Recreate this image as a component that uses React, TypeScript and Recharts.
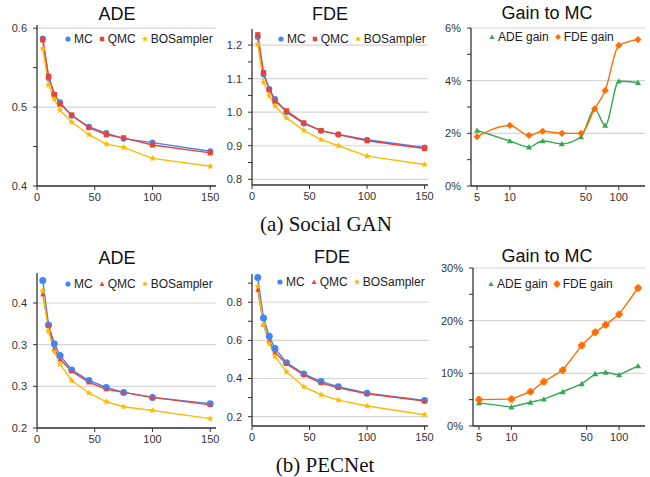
import { LineChart, Line, XAxis, YAxis, CartesianGrid, Legend } from "recharts";

const FONT = '"Liberation Sans", Arial, sans-serif';
const SERIF = '"Liberation Serif", "Times New Roman", serif';

const BLUE = "#4285F4";
const RED = "#EA4335";
const YELLOW = "#FBBC04";
const GREEN = "#34A853";
const ORANGE = "#FF6D01";

// number of samples
const sampleSizes = [5, 10, 15, 20, 30, 45, 60, 75, 100, 150];

// (a) Social GAN
const sganAdeMC = [0.587, 0.537, 0.516, 0.506, 0.489, 0.475, 0.467, 0.46, 0.455, 0.444];
const sganAdeQMC = [0.585, 0.539, 0.516, 0.504, 0.49, 0.474, 0.465, 0.461, 0.452, 0.442];
const sganAdeBO = [0.574, 0.528, 0.51, 0.496, 0.481, 0.465, 0.453, 0.449, 0.435, 0.425];
const sganFdeMC = [1.224, 1.113, 1.069, 1.039, 1.0, 0.966, 0.945, 0.934, 0.918, 0.895];
const sganFdeQMC = [1.231, 1.118, 1.067, 1.033, 1.004, 0.968, 0.945, 0.933, 0.915, 0.892];
const sganFdeBO = [1.203, 1.089, 1.049, 1.019, 0.983, 0.946, 0.918, 0.9, 0.869, 0.844];
const sganAdeGain = [2.11, 1.71, 1.48, 1.71, 1.6, 1.87, 2.93, 2.3, 3.98, 3.93];
const sganFdeGain = [1.87, 2.3, 1.92, 2.08, 2.0, 2.0, 2.93, 3.63, 5.34, 5.56];

// (b) PECNet
const pecAdeMC = [0.436, 0.365, 0.335, 0.316, 0.293, 0.276, 0.265, 0.257, 0.249, 0.239];
const pecAdeQMC = [0.414, 0.364, 0.327, 0.31, 0.291, 0.273, 0.262, 0.257, 0.249, 0.237];
const pecAdeBO = [0.419, 0.355, 0.322, 0.302, 0.276, 0.256, 0.242, 0.234, 0.228, 0.215];
const pecFdeMC = [0.929, 0.717, 0.621, 0.558, 0.483, 0.424, 0.384, 0.357, 0.323, 0.285];
const pecFdeQMC = [0.866, 0.683, 0.598, 0.537, 0.476, 0.419, 0.376, 0.351, 0.32, 0.282];
const pecFdeBO = [0.885, 0.683, 0.583, 0.515, 0.435, 0.357, 0.315, 0.287, 0.256, 0.21];
const pecAdeGain = [4.4, 3.6, 4.5, 5.1, 6.5, 8.0, 9.9, 10.2, 9.7, 11.4];
const pecFdeGain = [5.0, 5.1, 6.5, 8.4, 10.6, 15.3, 17.8, 19.2, 21.2, 26.2];

// axis ticks
const linTicks = [0, 50, 100, 150];
const logTicks = [5, 10, 50, 100];
const sganAdeTicks = [0.4, 0.45, 0.5, 0.55, 0.6];
const sganAdeMajor = [0.4, 0.5, 0.6];
const sganFdeTicks = [0.8, 0.85, 0.9, 0.95, 1.0, 1.05, 1.1, 1.15, 1.2];
const sganFdeMajor = [0.8, 0.9, 1.0, 1.1, 1.2];
const sganGainTicks = [0, 1, 2, 3, 4, 5, 6];
const sganGainMajor = [0, 2, 4, 6];
const pecAdeTicks = [0.2, 0.2667, 0.3333, 0.4];
const pecFdeTicks = [0.2, 0.3, 0.4, 0.5, 0.6, 0.7, 0.8, 0.9];
const pecFdeMajor = [0.2, 0.4, 0.6, 0.8];
const pecGainTicks = [0, 5, 10, 15, 20, 25, 30];
const pecGainMajor = [0, 10, 20, 30];

type Shape = "circle" | "square" | "triangle" | "star" | "diamond" | "plus";
type Series = { key: string; name: string; color: string; shape: Shape; size: number; legendSize: number };

function Marker({ shape, cx, cy, s, color }: { shape: Shape; cx: number; cy: number; s: number; color: string }) {
    switch (shape) {
        case "circle":
            return <circle cx={cx} cy={cy} r={s} fill={color} />;
        case "square":
            return <rect x={cx - s} y={cy - s} width={2 * s} height={2 * s} fill={color} />;
        case "triangle":
            return <path d={`M${cx},${cy - s}L${cx + s},${cy + s * 0.8}L${cx - s},${cy + s * 0.8}Z`} fill={color} />;
        case "diamond":
            return <path d={`M${cx},${cy - s}L${cx + s},${cy}L${cx},${cy + s}L${cx - s},${cy}Z`} fill={color} />;
        case "plus": {
            const a = s * 0.45;
            return (
                <path
                    d={`M${cx - a},${cy - s}H${cx + a}V${cy - a}H${cx + s}V${cy + a}H${cx + a}V${cy + s}H${cx - a}V${cy + a}H${cx - s}V${cy - a}H${cx - a}Z`}
                    fill={color}
                    stroke={color}
                    strokeWidth={0.8}
                    strokeLinejoin="round"
                />
            );
        }
        case "star": {
            const pts: string[] = [];
            for (let i = 0; i < 10; i++) {
                const r = i % 2 === 0 ? s : s * 0.45;
                const ang = -Math.PI / 2 + (i * Math.PI) / 5;
                pts.push(`${cx + r * Math.cos(ang)},${cy + r * Math.sin(ang)}`);
            }
            return <polygon points={pts.join(" ")} fill={color} />;
        }
    }
    return null;
}

function Panel({
    box,
    data,
    series,
    yDomain,
    yTicks,
    yMajor,
    yFmt,
    xDomain,
    xTicks,
    logX,
    curve,
    legendAt,
}: {
    box: { x0: number; x1: number; y0: number; y1: number };
    data: any[];
    series: Series[];
    yDomain: [number, number];
    yTicks: number[];
    yMajor: number[];
    yFmt: (v: number) => string;
    xDomain: [number, number];
    xTicks: number[];
    logX?: boolean;
    curve: "linear" | "monotone";
    legendAt: { x: number; y: number };
}) {
    const YW = 40;
    const XH = 20;
    const PT = 10;
    const PR = 14;
    const left = box.x0 - YW;
    const top = box.y0 - PT;
    const width = box.x1 - box.x0 + YW + PR;
    const height = box.y1 - box.y0 + PT + XH;
    const tickStyle = { fontSize: 11, fill: "#333", fontFamily: FONT };

    return (
        <div style={{ position: "absolute", left, top, width, height }}>
            <LineChart width={width} height={height} data={data} margin={{ top: PT, right: PR, left: 0, bottom: 0 }}>
                <CartesianGrid vertical={false} horizontalValues={yMajor} stroke="#d6d6d6" strokeWidth={1.2} />
                <XAxis
                    dataKey="n"
                    type="number"
                    scale={logX ? "log" : "linear"}
                    domain={xDomain}
                    ticks={xTicks}
                    interval={0}
                    allowDataOverflow
                    height={XH}
                    tickSize={4}
                    tickMargin={3}
                    tick={tickStyle}
                    axisLine={{ stroke: "#333", strokeWidth: 1.3 }}
                    tickLine={{ stroke: "#333" }}
                />
                <YAxis
                    type="number"
                    domain={yDomain}
                    ticks={yTicks}
                    interval={0}
                    allowDataOverflow
                    width={YW}
                    tickSize={4}
                    tickMargin={6}
                    tick={tickStyle}
                    tickFormatter={(v: number) => (yMajor.includes(v) ? yFmt(v) : "")}
                    axisLine={{ stroke: "#333", strokeWidth: 1.3 }}
                    tickLine={{ stroke: "#333" }}
                />
                <Legend
                    layout="vertical"
                    align="center"
                    verticalAlign="middle"
                    wrapperStyle={{ left: legendAt.x - left, top: legendAt.y - top - 8, width: "auto" }}
                    content={() => (
                        <div style={{ display: "flex", alignItems: "center", fontFamily: FONT, fontSize: 12, color: "#222", whiteSpace: "nowrap", lineHeight: "16px" }}>
                            {series.map((s) => (
                                <span key={s.key} style={{ display: "inline-flex", alignItems: "center", marginRight: 5 }}>
                                    <svg width={8} height={8}>
                                        <Marker shape={s.shape} cx={4} cy={4} s={s.legendSize} color={s.color} />
                                    </svg>
                                    <span style={{ marginLeft: 2 }}>{s.name}</span>
                                </span>
                            ))}
                        </div>
                    )}
                />
                {series.map((s) => (
                    <Line
                        key={s.key}
                        dataKey={s.key}
                        name={s.name}
                        type={curve}
                        stroke={s.color}
                        strokeWidth={1.4}
                        isAnimationActive={false}
                        activeDot={false}
                        dot={(p: any) => <Marker key={`${s.key}-${p.index}`} shape={s.shape} cx={p.cx} cy={p.cy} s={s.size} color={s.color} />}
                    />
                ))}
            </LineChart>
        </div>
    );
}

const rows = (a: number[], b: number[], c?: number[]) =>
    sampleSizes.map((n, i) => (c ? { n, mc: a[i], qmc: b[i], bo: c[i] } : { n, ade: a[i], fde: b[i] }));

const dec1 = (v: number) => v.toFixed(1);
const pct = (v: number) => `${v}%`;

const sganSeries: Series[] = [
    { key: "mc", name: "MC", color: BLUE, shape: "circle", size: 3, legendSize: 2.6 },
    { key: "qmc", name: "QMC", color: RED, shape: "square", size: 2.6, legendSize: 2.2 },
    { key: "bo", name: "BOSampler", color: YELLOW, shape: "star", size: 3.6, legendSize: 3.2 },
];
const pecSeries: Series[] = [
    { key: "mc", name: "MC", color: BLUE, shape: "circle", size: 3.5, legendSize: 2.6 },
    { key: "qmc", name: "QMC", color: RED, shape: "triangle", size: 2.6, legendSize: 2.4 },
    { key: "bo", name: "BOSampler", color: YELLOW, shape: "star", size: 3.6, legendSize: 3.2 },
];
const sganGainSeries: Series[] = [
    { key: "ade", name: "ADE gain", color: GREEN, shape: "triangle", size: 3, legendSize: 2.6 },
    { key: "fde", name: "FDE gain", color: ORANGE, shape: "diamond", size: 3.6, legendSize: 3 },
];
const pecGainSeries: Series[] = [
    { key: "ade", name: "ADE gain", color: GREEN, shape: "triangle", size: 3, legendSize: 2.6 },
    { key: "fde", name: "FDE gain", color: ORANGE, shape: "plus", size: 3.1, legendSize: 2.8 },
];

function Title({ text, x, y }: { text: string; x: number; y: number }) {
    return (
        <div style={{ position: "absolute", left: x, top: y, transform: "translate(-50%, -50%)", fontFamily: FONT, fontSize: 18, color: "#111", whiteSpace: "nowrap", lineHeight: "20px" }}>
            {text}
        </div>
    );
}

function Caption({ text, x, y }: { text: string; x: number; y: number }) {
    return (
        <div style={{ position: "absolute", left: x, top: y, transform: "translate(-50%, -50%)", fontFamily: SERIF, fontSize: 21, color: "#111", whiteSpace: "nowrap", lineHeight: "24px" }}>
            {text}
        </div>
    );
}

export default function App() {
    return (
        <div style={{ position: "absolute", left: 0, top: 0, width: 650, height: 477, background: "#fff", overflow: "hidden" }}>
            <Title text="ADE" x={117} y={14} />
            <Title text="FDE" x={330} y={14} />
            <Title text="Gain to MC" x={547} y={13} />
            <Panel
                box={{ x0: 37, x1: 216, y0: 25, y1: 186 }}
                data={rows(sganAdeMC, sganAdeQMC, sganAdeBO)}
                series={sganSeries}
                yDomain={[0.4, 0.604]}
                yTicks={sganAdeTicks}
                yMajor={sganAdeMajor}
                yFmt={dec1}
                xDomain={[0, 155]}
                xTicks={linTicks}
                curve="linear"
                legendAt={{ x: 64, y: 39 }}
            />
            <Panel
                box={{ x0: 252, x1: 428, y0: 29, y1: 185 }}
                data={rows(sganFdeMC, sganFdeQMC, sganFdeBO)}
                series={sganSeries}
                yDomain={[0.783, 1.248]}
                yTicks={sganFdeTicks}
                yMajor={sganFdeMajor}
                yFmt={dec1}
                xDomain={[0, 153]}
                xTicks={linTicks}
                curve="linear"
                legendAt={{ x: 277, y: 39 }}
            />
            <Panel
                box={{ x0: 471, x1: 645, y0: 28, y1: 186 }}
                data={rows(sganAdeGain, sganFdeGain)}
                series={sganGainSeries}
                yDomain={[0, 6]}
                yTicks={sganGainTicks}
                yMajor={sganGainMajor}
                yFmt={pct}
                xDomain={[4.4, 174]}
                xTicks={logTicks}
                logX
                curve="monotone"
                legendAt={{ x: 488, y: 37 }}
            />
            <Caption text="(a) Social GAN" x={326} y={224} />

            <Title text="ADE" x={117} y={258} />
            <Title text="FDE" x={332} y={257} />
            <Title text="Gain to MC" x={547} y={256} />
            <Panel
                box={{ x0: 37, x1: 216, y0: 273, y1: 428 }}
                data={rows(pecAdeMC, pecAdeQMC, pecAdeBO)}
                series={pecSeries}
                yDomain={[0.2, 0.448]}
                yTicks={pecAdeTicks}
                yMajor={pecAdeTicks}
                yFmt={dec1}
                xDomain={[0, 155]}
                xTicks={linTicks}
                curve="linear"
                legendAt={{ x: 64, y: 284 }}
            />
            <Panel
                box={{ x0: 252, x1: 428, y0: 274, y1: 426 }}
                data={rows(pecFdeMC, pecFdeQMC, pecFdeBO)}
                series={pecSeries}
                yDomain={[0.151, 0.948]}
                yTicks={pecFdeTicks}
                yMajor={pecFdeMajor}
                yFmt={dec1}
                xDomain={[0, 153]}
                xTicks={linTicks}
                curve="linear"
                legendAt={{ x: 276, y: 282 }}
            />
            <Panel
                box={{ x0: 473, x1: 645, y0: 268, y1: 426 }}
                data={rows(pecAdeGain, pecFdeGain)}
                series={pecGainSeries}
                yDomain={[0, 30]}
                yTicks={pecGainTicks}
                yMajor={pecGainMajor}
                yFmt={pct}
                xDomain={[4.4, 174]}
                xTicks={logTicks}
                logX
                curve="linear"
                legendAt={{ x: 487, y: 284 }}
            />
            <Caption text="(b) PECNet" x={325} y={465} />
        </div>
    );
}
